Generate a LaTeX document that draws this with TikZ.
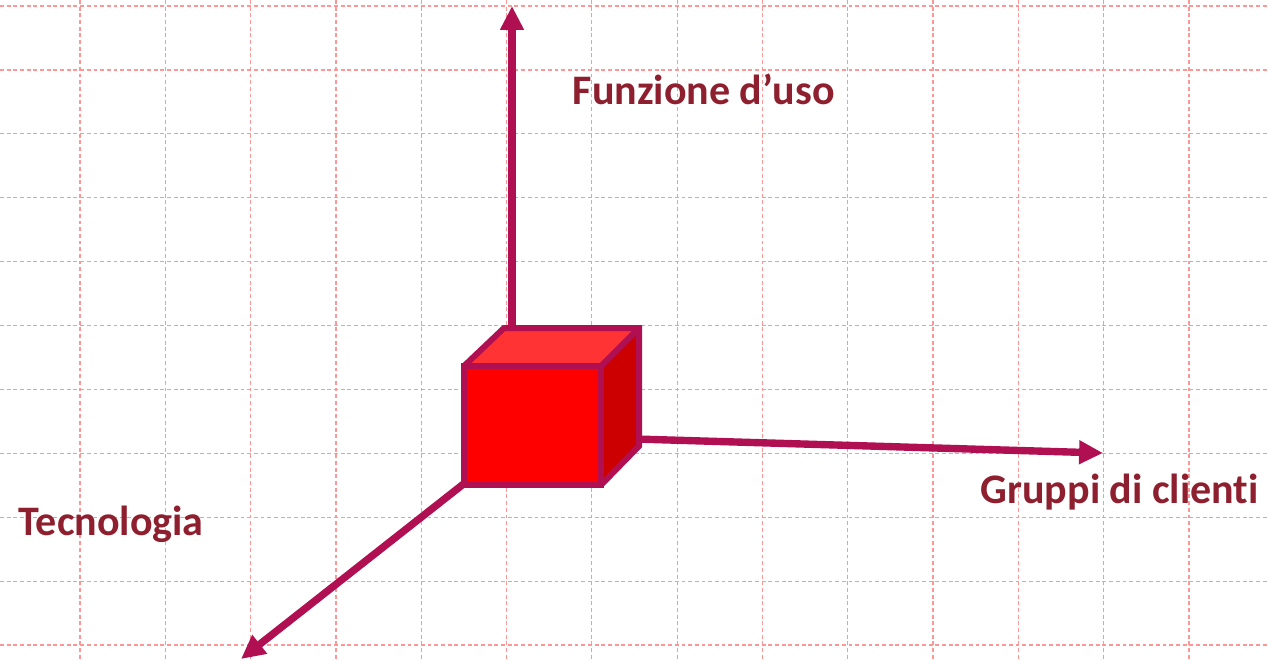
\documentclass[tikz,border=0pt]{standalone}
\usepackage{fontspec}
\setmainfont{Carlito}[Ligatures={NoCommon}]
\usetikzlibrary{arrows.meta,positioning}
\definecolor{axiscol}{RGB}{176,16,82}
\definecolor{labelcol}{RGB}{142,31,46}
\definecolor{gridcol}{RGB}{255,150,150}
\definecolor{frontcol}{RGB}{255,0,0}
\definecolor{topcol}{RGB}{255,51,51}
\definecolor{sidecol}{RGB}{204,0,0}

\begin{document}
\begin{tikzpicture}[
  x=0.01cm,y=-0.01cm,
  >={Triangle[length=6.8pt,width=6.4pt]},
  %% Background grid: fine pink dashes
  gridline/.style={gridcol,line width=0.35pt,dash pattern=on 1.1pt off 0.8pt},
  %% Axes: thick magenta arrows
  axisarrow/.style={->,axiscol,line width=2.1pt},
  %% Cube faces
  cubeface/.style={draw=axiscol,line width=1.7pt,line join=miter},
  %% Axis labels
  axislabel/.style={font=\fontsize{11.95}{14}\selectfont\bfseries,text=labelcol,
                    inner sep=0pt,anchor=base west}
]
\useasboundingbox (0,0) rectangle (1268,660);

%% ---- GRID ----
\foreach \gy in {0,...,10}
  \draw[gridline] (0,6+63.9*\gy) -- (1268,6+63.9*\gy);
\foreach \gx in {0,...,13}
  \draw[gridline] (80+85.3*\gx,0) -- (80+85.3*\gx,660);

%% ---- AXIS END POINTS ----
\coordinate (up0)    at (512,330);
\coordinate (up1)    at (512,6);
\coordinate (right0) at (636,439);
\coordinate (right1) at (1103,453);
\coordinate (diag0)  at (466,482);
\coordinate (diag1)  at (241,659);

%% ---- AXES ----
\draw[axisarrow] (up0) -- (up1);
\draw[axisarrow] (right0) -- (right1);
\draw[axisarrow] (diag0) -- (diag1);

%% ---- CUBE ----
\coordinate (fbl) at (464,485);
\coordinate (fbr) at (601,485);
\coordinate (ftr) at (601,366);
\coordinate (ftl) at (464,366);
\coordinate (btl) at (504,328);
\coordinate (btr) at (639,328);
\coordinate (bbr) at (639,446);
\fill[frontcol] (fbl) -- (fbr) -- (ftr) -- (ftl) -- cycle;
\fill[topcol] (ftl) -- (ftr) -- (btr) -- (btl) -- cycle;
\fill[sidecol] (fbr) -- (bbr) -- (btr) -- (ftr) -- cycle;
\draw[cubeface] (fbl) -- (fbr) -- (ftr) -- (ftl) -- cycle;
\draw[cubeface] (ftl) -- (btl) -- (btr) -- (bbr) -- (fbr);
\draw[cubeface] (ftr) -- (btr);

%% ---- LABELS ----
\node[axislabel] (funz) at (572,104) {Funzione d’uso};
\node[axislabel] (grup) at (980,503) {Gruppi di clienti};
\node[axislabel] (tecn) at (18,535)  {Tecnologia};

\end{tikzpicture}
\end{document}
